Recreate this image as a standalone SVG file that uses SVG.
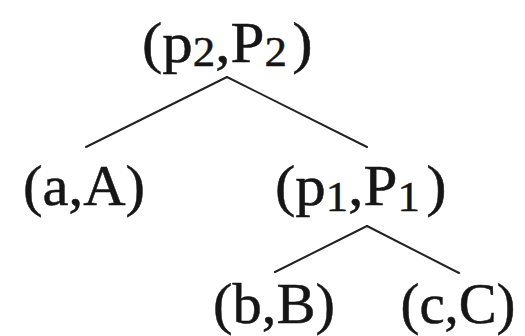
<svg xmlns="http://www.w3.org/2000/svg" width="525" height="336" viewBox="0 0 525 336">
<style>
.lbl{font-family:"Liberation Serif","Times New Roman",Times,serif;font-size:57px;fill:#161616;stroke:#161616;stroke-width:0.5}
.sub{font-size:42px}
.edge{stroke:#222;stroke-width:2;fill:none;stroke-linecap:round}
</style>
<rect width="525" height="336" fill="#fff"/>
<g id="connectors">
<line class="edge" x1="227" y1="77" x2="86" y2="147"/>
<line class="edge" x1="227" y1="77" x2="367" y2="147"/>
<line class="edge" x1="367" y1="226" x2="275" y2="272"/>
<line class="edge" x1="367" y1="226" x2="459" y2="273"/>
</g>
<g id="node-p2P2" transform="translate(142,62) scale(1.07,1)">
<text class="lbl" x="0" y="0">(p<tspan class="sub" dy="4">2</tspan><tspan dy="-4">,P</tspan><tspan class="sub" dy="4">2</tspan><tspan dx="5" dy="-4">)</tspan></text>
</g>
<g id="node-aA">
<text class="lbl" x="84" y="205" text-anchor="middle" textLength="122" lengthAdjust="spacingAndGlyphs">(a,A)</text>
</g>
<g id="node-p1P1" transform="translate(275,205) scale(1.07,1)">
<text class="lbl" x="0" y="0">(p<tspan class="sub" dy="6">1</tspan><tspan dy="-6">,P</tspan><tspan class="sub" dy="6">1</tspan><tspan dx="6" dy="-6">)</tspan></text>
</g>
<g id="node-bB">
<text class="lbl" x="274" y="323" text-anchor="middle" textLength="122" lengthAdjust="spacingAndGlyphs">(b,B)</text>
</g>
<g id="node-cC">
<text class="lbl" x="458" y="323" text-anchor="middle" textLength="115" lengthAdjust="spacingAndGlyphs">(c,C)</text>
</g>
</svg>
